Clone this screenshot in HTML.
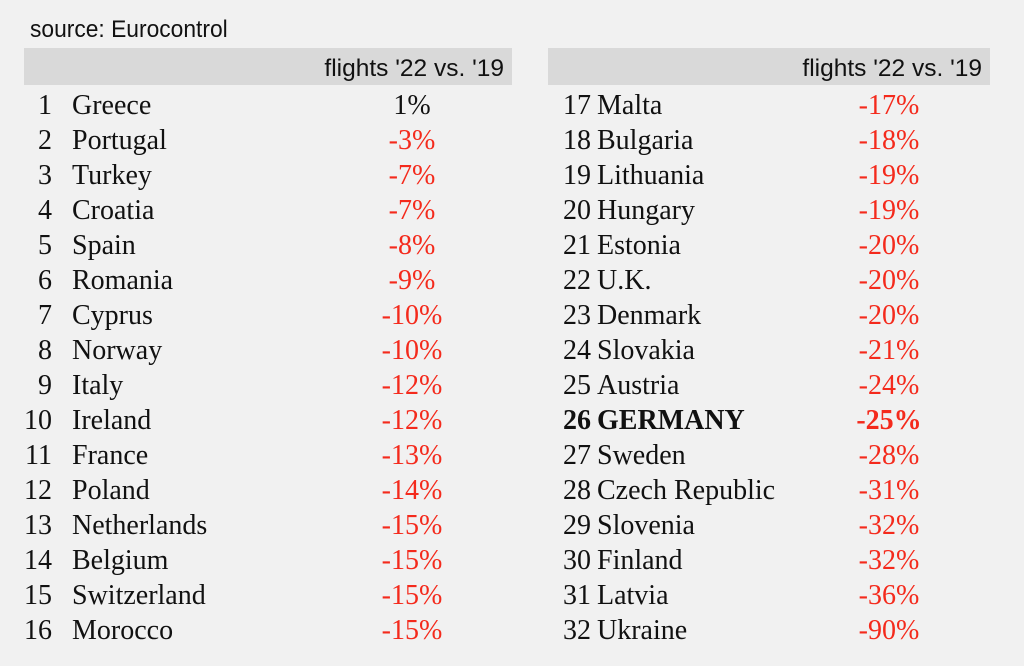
<!DOCTYPE html>
<html><head><meta charset="utf-8"><style>
body{margin:0;width:1024px;height:666px;background:#f1f1f1;position:relative;overflow:hidden;font-family:"Liberation Serif",serif}
.src{position:absolute;left:30px;top:16px;font:24px "Liberation Sans",sans-serif;color:#111;transform:scaleX(0.95);transform-origin:left}
.hdr{position:absolute;top:48px;height:37px;background:#d9d9d9;font:24.5px "Liberation Sans",sans-serif;color:#111;text-align:right;line-height:42px;box-sizing:border-box;padding-right:8px}
.c{position:absolute;font-size:28px;color:#111;line-height:30px;white-space:nowrap}
.n{text-align:right;width:40px}
.v{text-align:center;width:120px}
.red{color:#f42a1c}
.b{font-weight:bold}
</style></head><body>
<div class="src">source: Eurocontrol</div>
<div class="hdr" style="left:24px;width:488px">flights '22 vs. '19</div>
<div class="hdr" style="left:548px;width:442px">flights '22 vs. '19</div>
<div id="t"></div>
<script>
const countries=["Greece","Portugal","Turkey","Croatia","Spain","Romania","Cyprus","Norway","Italy","Ireland","France","Poland","Netherlands","Belgium","Switzerland","Morocco","Malta","Bulgaria","Lithuania","Hungary","Estonia","U.K.","Denmark","Slovakia","Austria","GERMANY","Sweden","Czech Republic","Slovenia","Finland","Latvia","Ukraine"];
const values=[1,-3,-7,-7,-8,-9,-10,-10,-12,-12,-13,-14,-15,-15,-15,-15,-17,-18,-19,-19,-20,-20,-20,-21,-24,-25,-28,-31,-32,-32,-36,-90];
const t=document.getElementById('t');
countries.forEach((c,i)=>{
  const col=i<16?0:1, r=i%16, top=91+r*35;
  const nx=col?551:12, cx=col?597:72, vx=col?829:352;
  const bold=c==="GERMANY"?" b":"";
  const n=document.createElement('div');n.className='c n'+bold;n.style.left=nx+'px';n.style.top=top+'px';n.textContent=i+1;
  
  
  const k=document.createElement('div');k.className='c'+bold;k.style.left=cx+'px';k.style.top=top+'px';k.textContent=c;
  
  
  const v=document.createElement('div');v.className='c v'+bold+(values[i]<0?' red':'');v.style.left=vx+'px';v.style.top=top+'px';v.textContent=values[i]+'%';
  
  
  t.append(n,k,v);
});
</script>
</body></html>
